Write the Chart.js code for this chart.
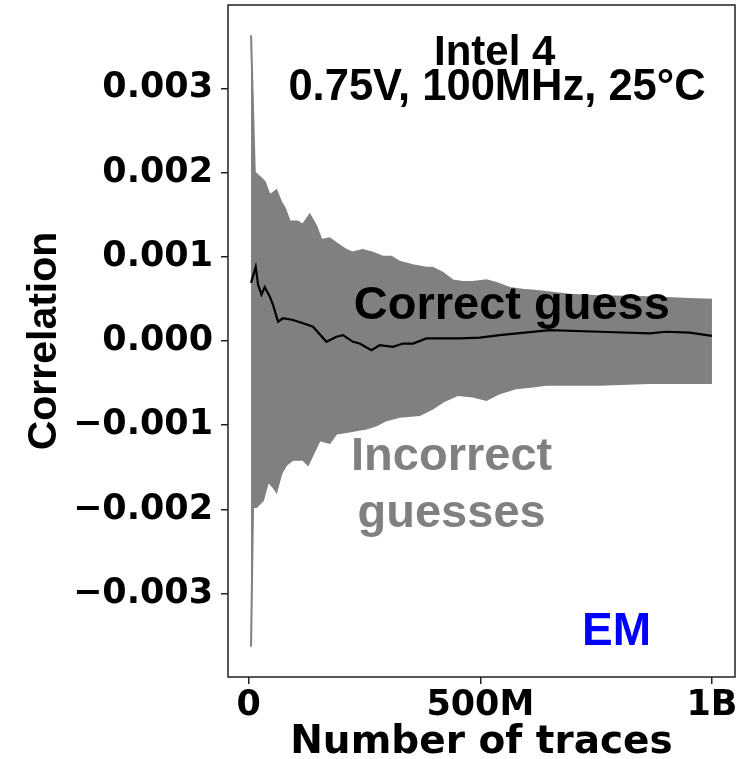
<!DOCTYPE html>
<html>
<head>
<meta charset="utf-8">
<script src="https://cdn.jsdelivr.net/npm/chart.js@4/dist/chart.umd.min.js"></script>
<style>
  body { margin: 0; background: #ffffff; }
  canvas { display: block; }
</style>
</head>
<body>
<canvas id="corrChart" width="754" height="759"></canvas>
<script>
/* ============= Data (traces in millions, correlation) ============= */
// top edge of the bundle of incorrect guesses
var upperTraces = [5, 13, 27.4, 34.5, 45.3, 59.8, 70.6, 77.7, 88.5, 105.8, 116.6, 131.7, 146.1, 156.9, 174.8, 189.3, 210.9, 224.5, 246.1, 267.6, 289.2, 308, 325.9, 354, 383.6, 397.1, 418.7, 440.3, 461.9, 483.5, 513, 534.6, 563.3, 591.4, 628, 692.8, 757.6, 865.5, 951.9, 1000];
var upperCorr = [0.00363, 0.00200, 0.00193, 0.00189, 0.00173, 0.00179, 0.00164, 0.00158, 0.00142, 0.00142, 0.00138, 0.00150, 0.00136, 0.00120, 0.00122, 0.00116, 0.00108, 0.00105, 0.00108, 0.00105, 0.00100, 0.00100, 0.00094, 0.00090, 0.00087, 0.00087, 0.00081, 0.00072, 0.00070, 0.00070, 0.00072, 0.00069, 0.00063, 0.00061, 0.00059, 0.00055, 0.00053, 0.00052, 0.00050, 0.00049];

// bottom edge of the bundle of incorrect guesses
var lowerTraces = [5, 9.3, 16.6, 30.9, 41.7, 52.4, 59.8, 70.6, 81.4, 95.6, 117.2, 128, 146.1, 153.2, 174.8, 189.3, 210.9, 232.5, 254, 275.6, 297.2, 325.9, 369.1, 397.8, 419.4, 451.8, 484.1, 513, 541.8, 577.8, 613.6, 642.6, 692.8, 757.6, 865.5, 1000];
var lowerCorr = [-0.00363, -0.00197, -0.00197, -0.00189, -0.00167, -0.00173, -0.00179, -0.00157, -0.00147, -0.00141, -0.00141, -0.00147, -0.00126, -0.00118, -0.00121, -0.00110, -0.00108, -0.00106, -0.00104, -0.00100, -0.00094, -0.00090, -0.00088, -0.00080, -0.00072, -0.00064, -0.00066, -0.00070, -0.00062, -0.00056, -0.00054, -0.00052, -0.00052, -0.00052, -0.00050, -0.00050];

// correct key guess
var correctTraces = [5, 15.1, 20.1, 27.4, 34.5, 45.3, 52.4, 63.2, 74, 95.6, 117.2, 138.8, 167.7, 189.3, 203.5, 225.1, 239.6, 264.8, 282.8, 311.5, 333.1, 354.6, 383.6, 412.3, 455.4, 498.6, 541.8, 649.7, 757.6, 865.5, 901.6, 951.9, 1000];
var correctCorr = [0.00069, 0.00088, 0.00067, 0.00055, 0.00064, 0.00053, 0.00043, 0.00023, 0.00027, 0.00025, 0.00021, 0.00017, -0.00001, 0.00005, 0.00007, -0.00001, -0.00003, -0.00011, -0.00005, -0.00007, -0.00003, -0.00003, 0.00003, 0.00003, 0.00003, 0.00004, 0.00007, 0.00013, 0.00011, 0.00009, 0.00011, 0.00010, 0.00006];

var xTickValues = [0, 500, 1000];
var xTickLabels = ['0', '500M', '1B'];
var yTickValues = [-0.003, -0.002, -0.001, 0, 0.001, 0.002, 0.003];
var yTickLabels = ['\u22120.003', '\u22120.002', '\u22120.001', '0.000', '0.001', '0.002', '0.003'];

var grayColor = '#808080';
var frameColor = '#222222';

// text placed on the plot, in data coordinates
var notes = [
  { text: 'Intel 4', x: 531, y: 0.00328, color: '#000000', size: 42 },
  { text: '0.75V, 100MHz, 25\u00B0C', x: 536, y: 0.00286, color: '#000000', size: 43.5 },
  { text: 'Correct guess', x: 568, y: 0.000267, color: '#000000', size: 47 },
  { text: 'Incorrect', x: 438, y: -0.00153, color: grayColor, size: 47 },
  { text: 'guesses', x: 438, y: -0.00221, color: grayColor, size: 47 },
  { text: 'EM', x: 794, y: -0.00361, color: '#0000ff', size: 46 }
];

/* ============= Helpers ============= */
function toPoints(xs, ys) {
  var pts = [];
  for (var i = 0; i < xs.length; i++) {
    pts.push({ x: xs[i], y: ys[i] });
  }
  return pts;
}

function setTicks(values) {
  return function (axis) {
    axis.ticks = values.map(function (v) { return { value: v }; });
  };
}

/* ============= Plugins ============= */
var framePlugin = {
  id: 'frame',
  afterDraw: function (chart) {
    var a = chart.chartArea;
    var ctx = chart.ctx;
    ctx.save();
    ctx.strokeStyle = frameColor;
    ctx.lineWidth = 1.5;
    ctx.strokeRect(a.left, a.top, a.right - a.left, a.bottom - a.top);
    ctx.restore();
  }
};

var notesPlugin = {
  id: 'notes',
  afterDatasetsDraw: function (chart) {
    var ctx = chart.ctx;
    var xs = chart.scales.x;
    var ys = chart.scales.y;
    ctx.save();
    ctx.textAlign = 'center';
    ctx.textBaseline = 'alphabetic';
    for (var i = 0; i < notes.length; i++) {
      var n = notes[i];
      ctx.font = 'bold ' + n.size + 'px "Liberation Sans", Arial, sans-serif';
      ctx.fillStyle = n.color;
      ctx.fillText(n.text, xs.getPixelForValue(n.x), ys.getPixelForValue(n.y));
    }
    ctx.restore();
  }
};

/* ============= Chart ============= */
var ctx = document.getElementById('corrChart').getContext('2d');
var corrChart = new Chart(ctx, {
  type: 'line',
  data: {
    datasets: [
      {
        label: 'Correct guess',
        data: toPoints(correctTraces, correctCorr),
        borderColor: '#000000',
        borderWidth: 2.2,
        pointRadius: 0,
        fill: false,
        order: 0
      },
      {
        label: 'Incorrect guesses (top)',
        data: toPoints(upperTraces, upperCorr),
        borderColor: grayColor,
        backgroundColor: grayColor,
        borderWidth: 2,
        pointRadius: 0,
        fill: '+1',
        order: 1
      },
      {
        label: 'Incorrect guesses (bottom)',
        data: toPoints(lowerTraces, lowerCorr),
        borderColor: grayColor,
        backgroundColor: grayColor,
        borderWidth: 2,
        pointRadius: 0,
        fill: false,
        order: 1
      }
    ]
  },
  options: {
    responsive: false,
    devicePixelRatio: 1,
    animation: false,
    layout: { padding: { top: 5, right: 19, left: 0, bottom: 0 } },
    plugins: {
      legend: { display: false },
      tooltip: { enabled: false }
    },
    scales: {
      x: {
        type: 'linear',
        min: -44.75,
        max: 1049.75,
        afterBuildTicks: setTicks(xTickValues),
        afterFit: function (axis) {
          axis.height = 82;
          axis.paddingLeft = 0;
          axis.paddingRight = 0;
        },
        border: { display: false },
        grid: { drawOnChartArea: false, drawTicks: true, tickLength: 7, color: frameColor, lineWidth: 1.5 },
        ticks: {
          padding: 1,
          color: '#000000',
          maxRotation: 0,
          font: { family: '"DejaVu Sans"', weight: 'bold', size: 35 },
          callback: function (value) {
            var i = xTickValues.indexOf(value);
            return i >= 0 ? xTickLabels[i] : '';
          }
        },
        title: {
          display: true,
          text: 'Number of traces',
          color: '#000000',
          padding: { top: 0, bottom: 1 },
          font: { family: '"DejaVu Sans"', weight: 'bold', size: 39, lineHeight: 0.8 }
        }
      },
      y: {
        type: 'linear',
        min: -0.00399,
        max: 0.00399,
        afterBuildTicks: setTicks(yTickValues),
        afterFit: function (axis) {
          axis.width = 228;
          axis.paddingTop = 0;
          axis.paddingBottom = 0;
        },
        border: { display: false },
        grid: { drawOnChartArea: false, drawTicks: true, tickLength: 7, color: frameColor, lineWidth: 1.5 },
        ticks: {
          padding: 8,
          color: '#000000',
          font: { family: '"DejaVu Sans"', weight: 'bold', size: 35 },
          callback: function (value) {
            for (var i = 0; i < yTickValues.length; i++) {
              if (Math.abs(yTickValues[i] - value) < 1e-9) return yTickLabels[i];
            }
            return '';
          }
        },
        title: {
          display: true,
          text: 'Correlation',
          color: '#000000',
          padding: { top: 24, bottom: 0 },
          font: { family: '"Liberation Sans"', weight: 'bold', size: 41, lineHeight: 1 }
        }
      }
    }
  },
  plugins: [framePlugin, notesPlugin]
});
</script>
</body>
</html>
